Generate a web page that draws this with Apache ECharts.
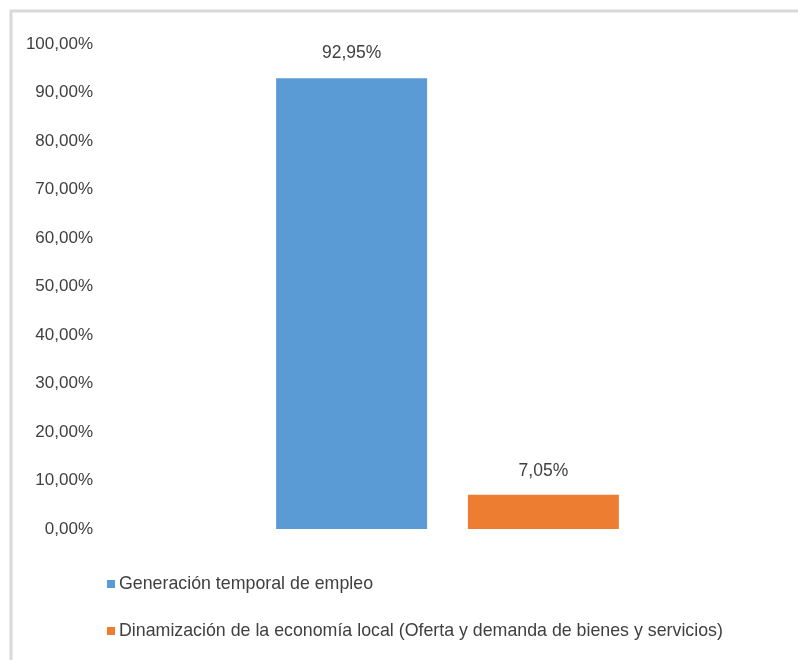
<!DOCTYPE html>
<html>
<head>
<meta charset="utf-8">
<script src="https://cdn.jsdelivr.net/npm/echarts@6/dist/echarts.min.js"></script>
<style>
  html, body { margin: 0; padding: 0; background: #fff; }
  #chart { width: 798px; height: 660px; }
</style>
</head>
<body>
<div id="chart"></div>
<script>
// Data
const categories = [''];
const seriesNames = [
  'Generación temporal de empleo',
  'Dinamización de la economía local (Oferta y demanda de bienes y servicios)'
];
const empleoValues = [92.95];
const economiaValues = [7.05];
const yTicks = [0, 10, 20, 30, 40, 50, 60, 70, 80, 90, 100];

const FONT = '"Liberation Sans Narrow", "Arial Narrow", "Liberation Sans", sans-serif';
const TEXT = '#404040';

function pct(v) {
  return v.toFixed(2).replace('.', ',') + '%';
}

const chart = echarts.init(document.getElementById('chart'), null, { renderer: 'canvas' });

chart.setOption({
  backgroundColor: '#ffffff',
  animation: false,
  textStyle: { fontFamily: FONT },
  graphic: [
    // chart frame edges (top and left)
    { type: 'line', shape: { x1: 10, y1: 11, x2: 798, y2: 11 }, style: { stroke: '#d9d9d9', lineWidth: 3 } },
    { type: 'line', shape: { x1: 11, y1: 10, x2: 11, y2: 660 }, style: { stroke: '#d9d9d9', lineWidth: 3 } }
  ],
  grid: { left: 105, right: 8, top: 44, height: 485, containLabel: false },
  legend: {
    orient: 'vertical',
    left: 102,
    top: 570,
    itemWidth: 8,
    itemHeight: 8,
    itemGap: 29,
    icon: 'rect',
    textStyle: { fontFamily: FONT, fontSize: 17.8, color: TEXT, padding: [0, 0, 0, -1] },
    data: seriesNames
  },
  xAxis: {
    type: 'category',
    data: categories,
    axisLine: { show: false },
    axisTick: { show: false },
    axisLabel: { show: false }
  },
  yAxis: {
    type: 'value',
    min: yTicks[0],
    max: yTicks[yTicks.length - 1],
    interval: yTicks[1] - yTicks[0],
    axisLine: { show: false },
    axisTick: { show: false },
    splitLine: { show: false },
    axisLabel: {
      fontFamily: FONT,
      fontSize: 17,
      color: TEXT,
      margin: 12,
      formatter: v => pct(v)
    }
  },
  series: [
    {
      name: seriesNames[0],
      type: 'bar',
      data: empleoValues,
      barWidth: 151,
      barGap: '27%',
      itemStyle: { color: '#5B9BD5' },
      label: {
        show: true, position: 'top', distance: 16,
        fontFamily: FONT, fontSize: 17.5, color: TEXT,
        formatter: p => pct(p.value)
      }
    },
    {
      name: seriesNames[1],
      type: 'bar',
      data: economiaValues,
      barWidth: 151,
      barGap: '27%',
      itemStyle: { color: '#ED7D31' },
      label: {
        show: true, position: 'top', distance: 15,
        fontFamily: FONT, fontSize: 17.5, color: TEXT,
        formatter: p => pct(p.value)
      }
    }
  ]
});
</script>
</body>
</html>
